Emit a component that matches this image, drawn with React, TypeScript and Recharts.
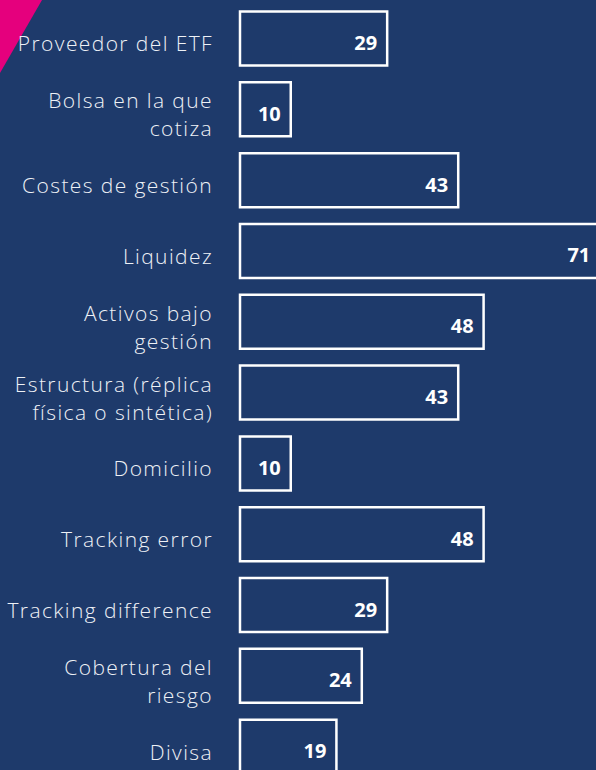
import { BarChart, Bar, XAxis, YAxis, LabelList } from 'recharts';

const categories = [
  'Proveedor del ETF',
  'Bolsa en la que\ncotiza',
  'Costes de gestión',
  'Liquidez',
  'Activos bajo\ngestión',
  'Estructura (réplica\nfísica o sintética)',
  'Domicilio',
  'Tracking error',
  'Tracking difference',
  'Cobertura del\nriesgo',
  'Divisa',
];

const values = [29, 10, 43, 71, 48, 43, 10, 48, 29, 24, 19];

const BG = '#1e3a6b';
const PINK = '#e5007d';
const FONT = '"Open Sans", sans-serif';

const data = categories.map((name, i) => ({ name, value: values[i] }));

function CategoryTick({ x, y, payload }: any) {
  const lines = String(payload.value).split('\n');
  const lineH = 28;
  const startY = y + 5 - ((lines.length - 1) * lineH) / 2;
  return (
    <text
      x={x}
      y={startY}
      textAnchor="end"
      fill="#eef1f6"
      fontFamily={FONT}
      fontWeight={300}
      fontSize={21}
      letterSpacing={1.4}
      dominantBaseline="central"
    >
      {lines.map((l, i) => (
        <tspan key={i} x={x} y={startY + i * lineH}>
          {l}
        </tspan>
      ))}
    </text>
  );
}

function ValueLabel({ x, y, width, height, value }: any) {
  return (
    <text
      x={x + width - 10}
      y={y + height / 2 + 4}
      textAnchor="end"
      dominantBaseline="central"
      fill="#ffffff"
      fontFamily={FONT}
      fontWeight={700}
      fontSize={20}
    >
      {value}
    </text>
  );
}

export default function App() {
  return (
    <div
      style={{
        position: 'fixed',
        top: 0,
        left: 0,
        width: 596,
        height: 770,
        overflow: 'hidden',
        background: BG,
      }}
    >
      <svg width={60} height={90} style={{ position: 'absolute', left: 0, top: 0 }}>
        <polygon points="0,0 42,0 0,73" fill={PINK} />
      </svg>
      <div style={{ position: 'absolute', left: 0, top: 0 }}>
        <BarChart
          layout="vertical"
          width={646}
          height={800}
          data={data}
          margin={{ top: 3, right: 0, bottom: 18, left: 0 }}
          barCategoryGap="12%"
        >
          <XAxis type="number" domain={[0, 80]} hide />
          <YAxis
            type="category"
            dataKey="name"
            width={240}
            axisLine={false}
            tickLine={false}
            tickMargin={21}
            tick={<CategoryTick />}
            interval={0}
          />
          <Bar
            dataKey="value"
            fill={BG}
            stroke="#ffffff"
            strokeWidth={2.5}
            isAnimationActive={false}
          >
            <LabelList dataKey="value" content={<ValueLabel />} />
          </Bar>
        </BarChart>
      </div>
    </div>
  );
}
